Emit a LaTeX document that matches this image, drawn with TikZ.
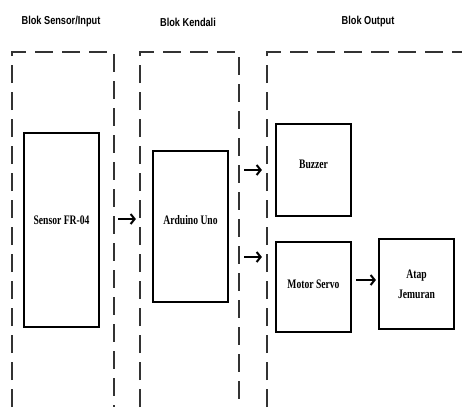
\documentclass[tikz,border=0pt]{standalone}
\usepackage{fontspec}
\newfontfamily\titlefont[FakeStretch=0.8]{Liberation Sans}
\newfontfamily\partfont[FakeStretch=0.74]{Liberation Serif}
\usetikzlibrary{arrows.meta}

\begin{document}
\begin{tikzpicture}[
    x=1pt, y=-1pt, % pixel-like coordinates, y grows downwards
    >={Straight Barb[length=4pt, width=10pt]}, % open arrow tips
    block/.style={-, dash pattern=on 18pt off 9pt, line width=2.4pt, black!80}, % dashed block frame
    part/.style={draw, line width=2.2pt, minimum width=75pt, align=center,
      font=\partfont\bfseries\fontsize{13}{20}\selectfont}, % solid part box
    title/.style={font=\titlefont\bfseries\fontsize{11.5}{13}\selectfont}, % block heading
    flow/.style={->, line width=2pt} % signal arrow
  ]
  \useasboundingbox (0,0) rectangle (462,407);
  \clip (0,0) rectangle (462,407);

  % --- Titles ---
  \node[title] (t_input) at (61,22) {Blok Sensor/Input};
  \node[title] (t_kendali) at (188,22) {Blok Kendali};
  \node[title] (t_output) at (368,22) {Blok Output};

  % --- Dashed blocks (open at the bottom) ---
  \draw[block] (12,407) -- (12,52) -- (114,52) -- (114,407); % input block
  \draw[block] (140,407) -- (140,52) -- (239,52) -- (239,407); % control block
  \draw[block] (267,407) -- (267,52) -- (462,52); % output block

  % --- Parts ---
  \node[part, minimum height=194pt, text depth=20pt] (sensor) at (61.5,230) {Sensor FR-04};
  \node[part, minimum height=151pt, text depth=14pt] (arduino) at (190.5,226.5) {Arduino Uno};
  \node[part, minimum height=92pt, text depth=12pt] (buzzer) at (313.5,170) {Buzzer};
  \node[part, minimum height=90pt, text depth=6pt] (servo) at (313.5,287) {Motor Servo};
  \node[part, minimum height=90pt] (atap) at (416.5,284) {Atap\\Jemuran};

  % --- Arrows ---
  \draw[flow] ([xshift=18pt, yshift=11pt]sensor.east) -- ([xshift=-16pt, yshift=7.5pt]arduino.west);
  \draw[flow, shorten <=15pt, shorten >=13pt] (arduino.east |- buzzer.west) -- (buzzer.west);
  \draw[flow, shorten <=15pt, shorten >=13pt] ([yshift=-30.5pt]arduino.east) -- ([yshift=30pt]servo.west);
  \draw[flow, shorten <=4pt, shorten >=2pt] ([yshift=7pt]servo.east) -- ([yshift=4pt]atap.west);

\end{tikzpicture}
\end{document}
